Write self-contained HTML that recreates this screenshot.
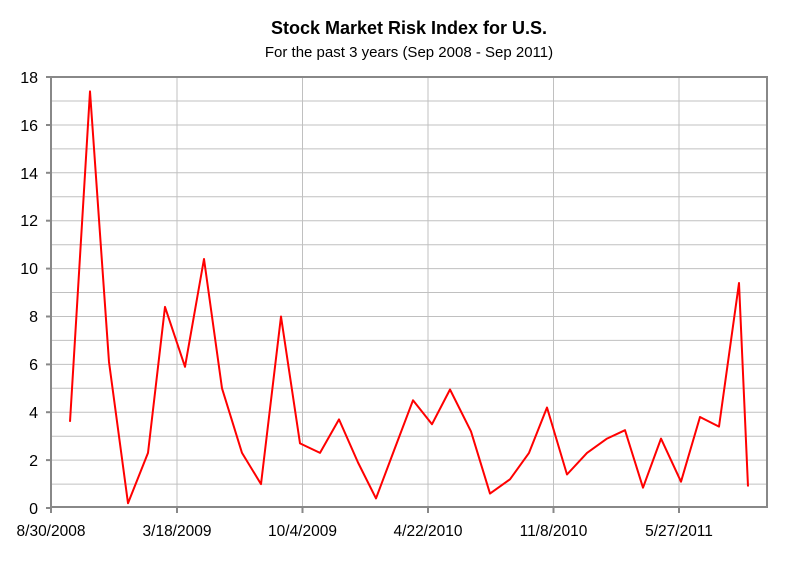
<!DOCTYPE html>
<html><head><style>
body{margin:0;background:#fff;}
svg text{font-family:"Liberation Sans",Arial,sans-serif;}
</style></head><body>
<svg width="800" height="557" viewBox="0 0 800 557" xmlns="http://www.w3.org/2000/svg">
<rect width="800" height="557" fill="#fff"/>
<text x="409" y="34" text-anchor="middle" font-size="18" font-weight="bold">Stock Market Risk Index for U.S.</text>
<text x="409" y="57" text-anchor="middle" font-size="15">For the past 3 years (Sep 2008 - Sep 2011)</text>
<g stroke="#c0c0c0" stroke-width="1">
<line x1="51" x2="767" y1="484.1" y2="484.1"/><line x1="51" x2="767" y1="460.1" y2="460.1"/><line x1="51" x2="767" y1="436.2" y2="436.2"/><line x1="51" x2="767" y1="412.2" y2="412.2"/><line x1="51" x2="767" y1="388.3" y2="388.3"/><line x1="51" x2="767" y1="364.4" y2="364.4"/><line x1="51" x2="767" y1="340.4" y2="340.4"/><line x1="51" x2="767" y1="316.5" y2="316.5"/><line x1="51" x2="767" y1="292.5" y2="292.5"/><line x1="51" x2="767" y1="268.6" y2="268.6"/><line x1="51" x2="767" y1="244.7" y2="244.7"/><line x1="51" x2="767" y1="220.7" y2="220.7"/><line x1="51" x2="767" y1="196.8" y2="196.8"/><line x1="51" x2="767" y1="172.8" y2="172.8"/><line x1="51" x2="767" y1="148.9" y2="148.9"/><line x1="51" x2="767" y1="125" y2="125"/><line x1="51" x2="767" y1="101" y2="101"/>
<line x1="177" x2="177" y1="77" y2="508"/><line x1="302.5" x2="302.5" y1="77" y2="508"/><line x1="428" x2="428" y1="77" y2="508"/><line x1="553.5" x2="553.5" y1="77" y2="508"/><line x1="679" x2="679" y1="77" y2="508"/>
</g>
<rect x="51" y="77" width="716" height="430" fill="none" stroke="#888" stroke-width="2"/>
<g stroke="#888" stroke-width="2">
<line x1="46" x2="51" y1="508" y2="508"/><line x1="46" x2="51" y1="460.1" y2="460.1"/><line x1="46" x2="51" y1="412.2" y2="412.2"/><line x1="46" x2="51" y1="364.4" y2="364.4"/><line x1="46" x2="51" y1="316.5" y2="316.5"/><line x1="46" x2="51" y1="268.6" y2="268.6"/><line x1="46" x2="51" y1="220.7" y2="220.7"/><line x1="46" x2="51" y1="172.8" y2="172.8"/><line x1="46" x2="51" y1="125" y2="125"/><line x1="46" x2="51" y1="77" y2="77"/>
<line x1="51" x2="51" y1="507" y2="513"/><line x1="177" x2="177" y1="507" y2="513"/><line x1="302.5" x2="302.5" y1="507" y2="513"/><line x1="428" x2="428" y1="507" y2="513"/><line x1="553.5" x2="553.5" y1="507" y2="513"/><line x1="679" x2="679" y1="507" y2="513"/>
</g>
<g font-size="16" text-anchor="end">
<text x="38" y="514">0</text><text x="38" y="466">2</text><text x="38" y="418">4</text><text x="38" y="370">6</text><text x="38" y="322">8</text><text x="38" y="274">10</text><text x="38" y="226">12</text><text x="38" y="179">14</text><text x="38" y="131">16</text><text x="38" y="83">18</text>
</g>
<g font-size="15.5" text-anchor="middle">
<text x="51" y="536">8/30/2008</text><text x="177" y="536">3/18/2009</text><text x="302.5" y="536">10/4/2009</text><text x="428" y="536">4/22/2010</text><text x="553.5" y="536">11/8/2010</text><text x="679" y="536">5/27/2011</text>
</g>
<polyline fill="none" stroke="#ff0000" stroke-width="2" stroke-linejoin="round" points="70,421.8 90,91.4 109,362 128,503.2 148,452.9 165,306.9 185,366.8 204,259 222,388.3 242,452.9 261,484.1 281,316.5 300,443.4 320,452.9 339,419.4 358,462.5 376,498.4 394,450.5 413,400.3 432,424.2 450,389.5 471,431.4 490,493.6 510,479.3 529,452.9 547,407.5 567,474.5 587,452.9 607,438.6 625,430.2 643,487.7 661,438.6 681,481.7 700,417 719,426.6 739,283 748,486.5"/>
</svg>
</body></html>
